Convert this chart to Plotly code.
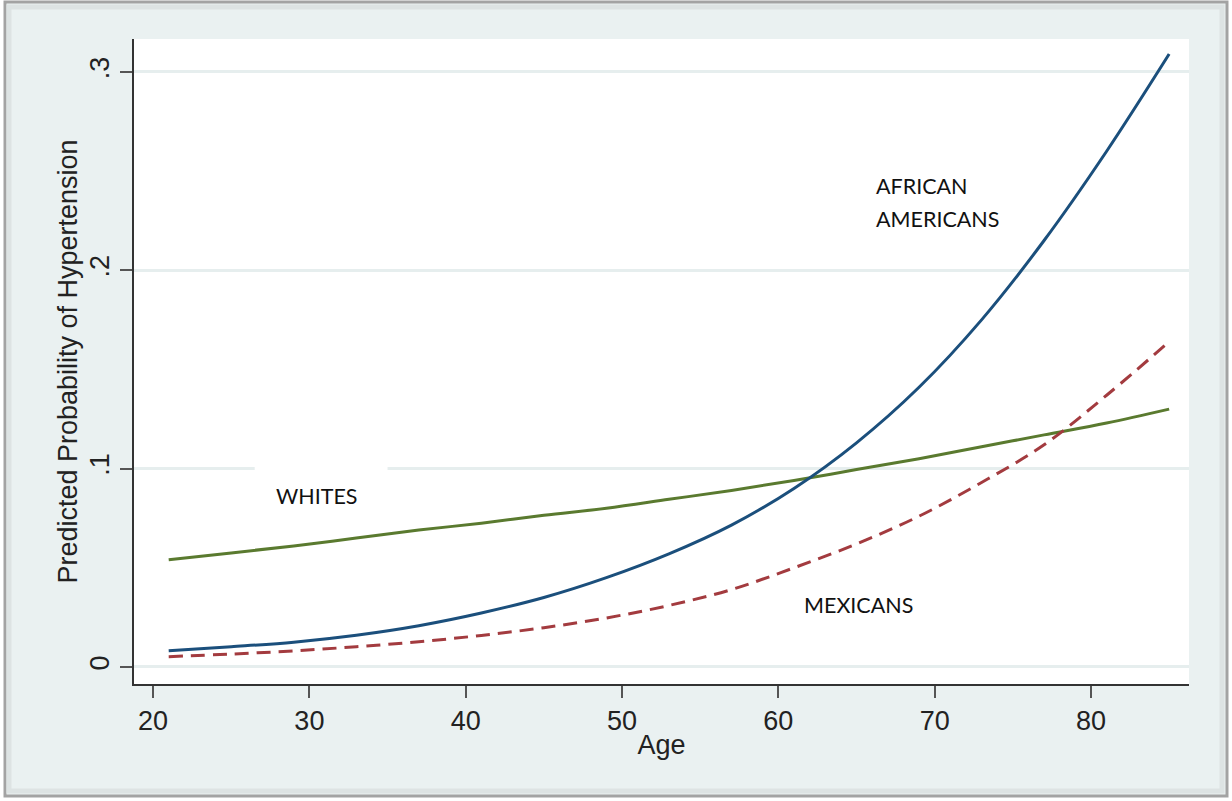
import plotly.graph_objects as go

ages = [21, 25, 29, 33, 37, 41, 45, 49, 53, 57, 61, 65, 69, 73, 77, 81, 85]
african_americans = [0.0082, 0.0102, 0.0125, 0.016, 0.0208, 0.0272, 0.035, 0.045, 0.057, 0.0715, 0.090, 0.113, 0.141, 0.175, 0.215, 0.260, 0.309]
mexicans = [0.0052, 0.0065, 0.0081, 0.0102, 0.0127, 0.0159, 0.0198, 0.0247, 0.0310, 0.039, 0.050, 0.062, 0.076, 0.093, 0.112, 0.137, 0.164]
whites = [0.054, 0.0575, 0.061, 0.065, 0.069, 0.0725, 0.0765, 0.080, 0.0845, 0.089, 0.094, 0.0995, 0.105, 0.111, 0.117, 0.123, 0.130]

x_ticks = [20, 30, 40, 50, 60, 70, 80]
y_ticks = [0, 0.1, 0.2, 0.3]
y_ticktext = ["0", ".1", ".2", ".3"]

W, H = 1232, 801
L, R, T, B = 134, 43, 39, 117
pw, ph = W - L - R, H - T - B

def px(xp):
    return (xp - L) / pw

def py(yp):
    return (H - B - yp) / ph

fig = go.Figure()
fig.add_trace(go.Scatter(x=ages, y=whites, mode="lines", line=dict(color="#5a7a2f", width=3, shape="spline"), name="Whites"))
fig.add_trace(go.Scatter(x=ages, y=mexicans, mode="lines", line=dict(color="#a33b3f", width=3, dash="14px,8px", shape="spline"), name="Mexicans"))
fig.add_trace(go.Scatter(x=ages, y=african_americans, mode="lines", line=dict(color="#1b4f7c", width=3, shape="spline"), name="African Americans"))

shapes = [
    dict(type="rect", xref="paper", yref="paper", x0=px(5), x1=px(1227), y0=py(796), y1=py(2),
         line=dict(color="#a3a3a3", width=3), fillcolor="#eaf1f1", layer="below"),
    dict(type="rect", xref="paper", yref="paper", x0=px(9), x1=px(1222), y0=py(791), y1=py(7),
         line=dict(color="#dde3e3", width=5), fillcolor="rgba(0,0,0,0)", layer="below"),
    dict(type="rect", xref="paper", yref="paper", x0=0, x1=1, y0=0, y1=1,
         line=dict(width=0), fillcolor="white", layer="below"),
    dict(type="rect", xref="x", yref="y", x0=26.5, x1=35.0, y0=0.09, y1=0.1015,
         line=dict(width=0), fillcolor="white", layer="between"),
]

label_font = dict(family="Lato, Carlito, Open Sans, sans-serif", size=21.5, color="#111111")
annotations = [
    dict(x=30.43, y=0.0862, text="WHITES", showarrow=False, font=label_font, xanchor="center", yanchor="middle"),
    dict(x=66.15, y=0.2426, text="AFRICAN", showarrow=False, font=label_font, xanchor="left", yanchor="middle"),
    dict(x=66.15, y=0.2259, text="AMERICANS", showarrow=False, font=label_font, xanchor="left", yanchor="middle"),
    dict(x=65.1, y=0.0313, text="MEXICANS", showarrow=False, font=label_font, xanchor="center", yanchor="middle"),
]

axis_font = dict(family="Liberation Sans, Arial, sans-serif", size=27, color="#222222")

fig.update_layout(
    width=W, height=H,
    margin=dict(l=L, r=R, t=T, b=B, pad=0),
    paper_bgcolor="white",
    plot_bgcolor="white",
    showlegend=False,
    shapes=shapes,
    annotations=annotations,
    xaxis=dict(
        range=[18.78, 86.27], tickvals=x_ticks, showgrid=False, zeroline=False,
        showline=True, linecolor="#333333", linewidth=1.5,
        ticks="outside", ticklen=12, tickwidth=1.5, tickcolor="#555555",
        tickfont=axis_font,
        title=dict(text="Age", font=axis_font, standoff=0),
    ),
    yaxis=dict(
        range=[-0.0086, 0.3166], tickvals=y_ticks, ticktext=y_ticktext, tickangle=-90,
        showgrid=True, gridcolor="#e6eeee", gridwidth=3, zeroline=False,
        showline=True, linecolor="#333333", linewidth=1.5,
        ticks="outside", ticklen=12, tickwidth=1.5, tickcolor="#555555",
        tickfont=axis_font,
        title=dict(text="Predicted Probability of Hypertension", font=dict(family="Liberation Sans, Arial, sans-serif", size=27, color="#222222"), standoff=0),
    ),
)

fig.write_html("out.html", config={"displayModeBar": False},
               post_script="document.body.style.margin='0';document.body.style.overflow='hidden';")
